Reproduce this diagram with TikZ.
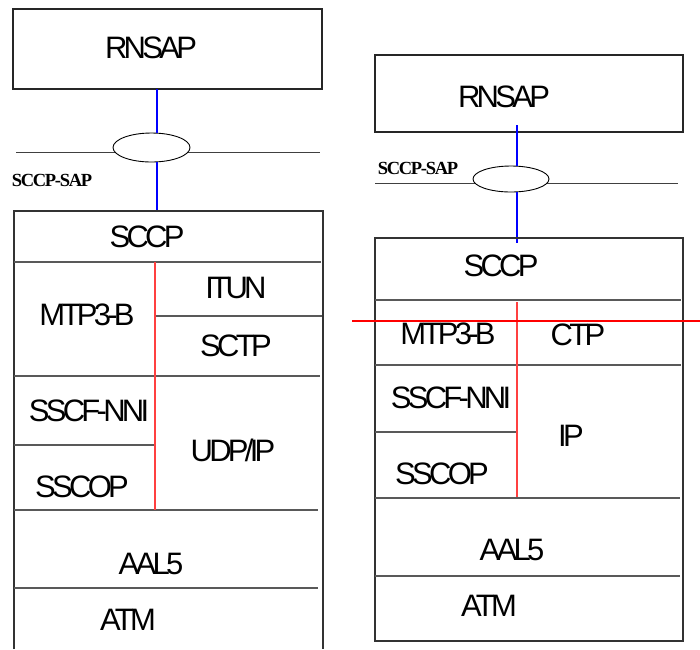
\documentclass[tikz,border=0pt]{standalone}
\usepackage{fontspec}
\setmainfont{Liberation Sans}
\newfontfamily\lab[LetterSpace=-12]{Liberation Sans}
\newfontfamily\sap[LetterSpace=-7]{Liberation Serif}
\usetikzlibrary{shapes.geometric}
\begin{document}
\begin{tikzpicture}[x=1pt,y=-1pt,
  lay/.style={inner sep=0pt, font=\lab\fontsize{31}{31}\selectfont},
  saplab/.style={inner sep=0pt, font=\sap\bfseries\fontsize{18.5}{18.5}\selectfont},
  topbox/.style={draw=black!85, line width=1.3pt, rectangle, inner sep=0pt},
  outer/.style={draw=black!80, line width=1.3pt},
  inner/.style={draw=black!65, line width=1.1pt},
  sapline/.style={draw=black!75, line width=1pt},
  sapell/.style={ellipse, draw=black, line width=0.9pt, fill=white, inner sep=0pt},
  conn/.style={draw=blue, line width=1.2pt},
  split/.style={draw=red!75, line width=1.2pt},
  cut/.style={draw=red, line width=2pt}]
\useasboundingbox (0,0) rectangle (700,649);

% ---------------- left stack ----------------
\node[topbox, minimum width=309pt, minimum height=80pt] (rnLbox) at (167.5,49) {};
\node[lay] (rnL) at (151,48) {RNSAP};
\draw[sapline] (16,152) -- (320,152);
\node[sapell, minimum width=77pt, minimum height=29pt] (eL) at (151.5,147.5) {};
\node[saplab] (sapL) at (52,180) {SCCP-SAP};
\coordinate (cL) at (157,89);
\coordinate (stLtop) at (157,211);
\draw[conn] (cL) -- (eL.north -| cL);
\draw[conn] (eL.south -| cL) -- (stLtop);

\draw[outer] (14,649) |- (323,211) -- (323,649);
\draw[inner] (14,262) -- (321,262);
\draw[inner] (155,316) -- (322,316);
\draw[inner] (14,376) -- (320,376);
\draw[inner] (14,445) -- (155,445);
\draw[inner] (14,510) -- (318,510);
\draw[inner] (14,588) -- (318,588);
\draw[split] (155,262) -- (155,510);

\node[lay] (sccpL) at (147,237) {SCCP};
\node[lay] (mtpL) at (87,315) {MTP3-B};
\node[lay] (itunL) at (236,288) {ITUN};
\node[lay] (sctpL) at (236,346) {SCTP};
\node[lay] (sscfL) at (89,411) {SSCF-NNI};
\node[lay] (udpL) at (233,450) {UDP/IP};
\node[lay] (sscopL) at (82,487) {SSCOP};
\node[lay] (aalL) at (151,564) {AAL5};
\node[lay] (atmL) at (128,620) {ATM};

% ---------------- right stack ----------------
\node[topbox, minimum width=308pt, minimum height=77pt] (rnRbox) at (529,93.5) {};
\node[lay] (rnR) at (504,97) {RNSAP};
\draw[sapline] (375,183) -- (678,183);
\node[sapell, minimum width=76pt, minimum height=26pt] (eR) at (511,179) {};
\node[saplab] (sapR) at (418,168) {SCCP-SAP};
\coordinate (cR) at (517,125);
\coordinate (stRtop) at (517,243);
\draw[conn] (cR) -- (eR.north -| cR);
\draw[conn] (eR.south -| cR) -- (stRtop);

\draw[outer] (375,238) rectangle (683,641);
\draw[inner] (375,300) -- (681,300);
\draw[inner] (375,365) -- (681,365);
\draw[inner] (375,432) -- (517,432);
\draw[inner] (375,498) -- (680,498);
\draw[inner] (375,576) -- (680,576);
\draw[split] (517,302) -- (517,497);
\draw[cut] (352,321) -- (700,321);

\node[lay] (sccpR) at (501,266) {SCCP};
\node[lay] (mtpR) at (448,334) {MTP3-B};
\node[lay] (ctpR) at (578,335) {CTP};
\node[lay] (sscfR) at (451,398) {SSCF-NNI};
\node[lay] (ipR) at (571,436) {IP};
\node[lay] (sscopR) at (442,474) {SSCOP};
\node[lay] (aalR) at (512,550) {AAL5};
\node[lay] (atmR) at (489,606) {ATM};
\end{tikzpicture}
\end{document}
